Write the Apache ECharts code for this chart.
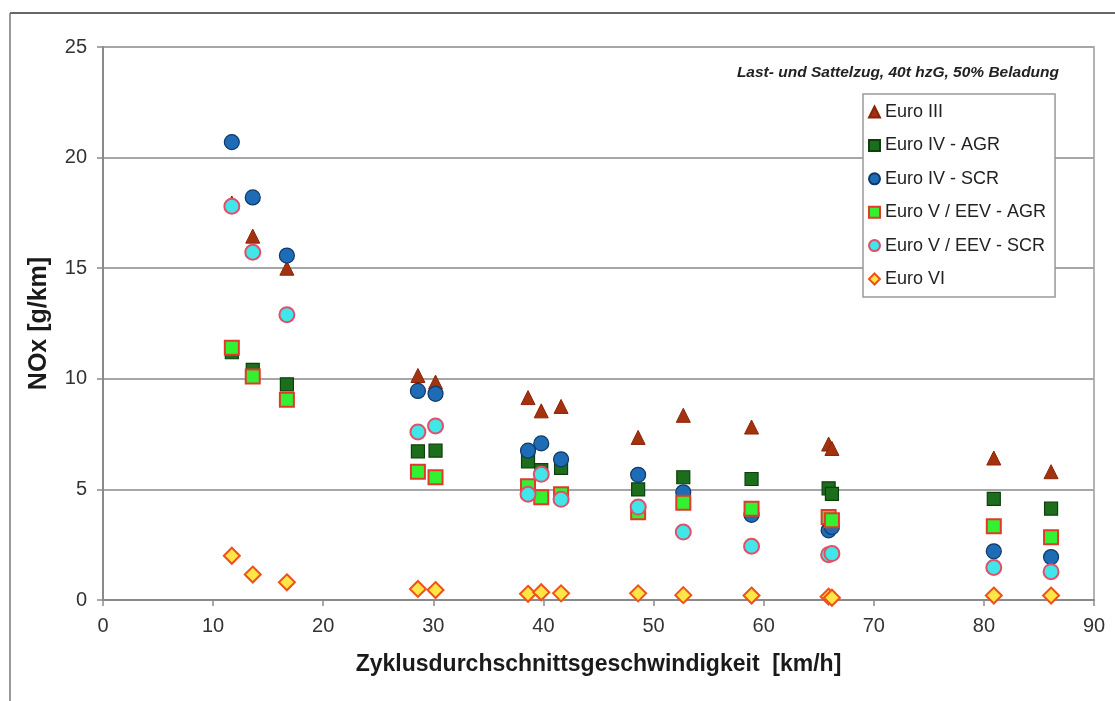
<!DOCTYPE html>
<html>
<head>
<meta charset="utf-8">
<script src="https://cdn.jsdelivr.net/npm/echarts@6/dist/echarts.min.js"></script>
<style>
html,body{margin:0;padding:0;background:#fff;}
#chart{width:1115px;height:701px;}
</style>
</head>
<body>
<div id="chart"></div>
<script>
// Cycle average speeds [km/h]
const speeds = [11.7, 13.6, 16.7, 28.6, 30.2, 38.6, 39.8, 41.6, 48.6, 52.7, 58.9, 65.9, 66.2, 80.9, 86.1];
// NOx [g/km] per emission class
const euroIII     = [17.95, 16.45, 15.0, 10.15, 9.85, 9.15, 8.55, 8.75, 7.35, 8.35, 7.82, 7.05, 6.85, 6.42, 5.8];
const euroIV_AGR  = [11.2, 10.4, 9.75, 6.72, 6.75, 6.27, 5.87, 5.97, 5.0, 5.55, 5.47, 5.05, 4.8, 4.57, 4.13];
const euroIV_SCR  = [20.7, 18.2, 15.57, 9.45, 9.32, 6.75, 7.08, 6.36, 5.66, 4.87, 3.85, 3.15, 3.3, 2.2, 1.94];
const euroV_AGR   = [11.4, 10.1, 9.05, 5.8, 5.55, 5.14, 4.65, 4.78, 3.97, 4.4, 4.12, 3.75, 3.6, 3.33, 2.84];
const euroV_SCR   = [17.8, 15.72, 12.9, 7.6, 7.87, 4.78, 5.68, 4.55, 4.2, 3.07, 2.43, 2.05, 2.1, 1.47, 1.28];
const euroVI      = [2.0, 1.15, 0.8, 0.5, 0.45, 0.28, 0.35, 0.3, 0.3, 0.22, 0.2, 0.15, 0.1, 0.2, 0.2];

const seriesNames = ['Euro III', 'Euro IV - AGR', 'Euro IV - SCR', 'Euro V / EEV - AGR', 'Euro V / EEV - SCR', 'Euro VI'];
const seriesValues = [euroIII, euroIV_AGR, euroIV_SCR, euroV_AGR, euroV_SCR, euroVI];
const yTicks = [0, 5, 10, 15, 20, 25];
const xTicks = [0, 10, 20, 30, 40, 50, 60, 70, 80, 90];
const subtitle = 'Last- und Sattelzug, 40t hzG, 50% Beladung';

const styles = [
  {symbol: 'triangle', size: 14, color: '#A3320F', border: '#8A2408', bw: 1},
  {symbol: 'rect', size: 13, color: '#1C6E1C', border: '#0C3F0C', bw: 1.2},
  {symbol: 'circle', size: 15, color: '#1F6CB6', border: '#0F3866', bw: 1.2},
  {symbol: 'rect', size: 14, color: '#33F033', border: '#E23A2A', bw: 2},
  {symbol: 'circle', size: 15, color: '#40E6E8', border: '#E0506A', bw: 2},
  {symbol: 'diamond', size: 16, color: '#FFE545', border: '#F0501A', bw: 2}
];

const chart = echarts.init(document.getElementById('chart'), null, {renderer: 'canvas'});

const series = seriesNames.map((name, i) => ({
  name: name,
  type: 'scatter',
  symbol: styles[i].symbol,
  symbolSize: styles[i].size,
  itemStyle: {color: styles[i].color, borderColor: styles[i].border, borderWidth: styles[i].bw, opacity: 1},
  emphasis: {disabled: true},
  data: speeds.map((s, k) => [s, seriesValues[i][k]]).filter(d => d[1] != null)
}));

chart.setOption({
  animation: false,
  backgroundColor: '#fff',
  grid: {left: 103, right: 21, top: 47, bottom: 101, show: true, borderColor: '#9a9a9a', borderWidth: 1.5, backgroundColor: 'transparent'},
  xAxis: {
    type: 'value', min: 0, max: 90, interval: 10,
    name: 'Zyklusdurchschnittsgeschwindigkeit  [km/h]',
    nameLocation: 'middle', nameGap: 53,
    nameTextStyle: {fontFamily: 'Liberation Sans', fontWeight: 'bold', fontSize: 23, color: '#1a1a1a'},
    axisLine: {show: true, lineStyle: {color: '#8a8a8a', width: 2}},
    axisTick: {show: true, length: 6, lineStyle: {color: '#8a8a8a', width: 1.5}},
    axisLabel: {fontFamily: 'Liberation Sans', fontSize: 20, color: '#333', margin: 16,
      formatter: v => xTicks.includes(v) ? String(v) : ''},
    splitLine: {show: false}
  },
  yAxis: {
    type: 'value', min: 0, max: 25, interval: 5,
    name: 'NOx [g/km]',
    nameLocation: 'middle', nameGap: 51,
    nameTextStyle: {fontFamily: 'Liberation Sans', fontWeight: 'bold', fontSize: 25, color: '#1a1a1a'},
    axisLine: {show: true, lineStyle: {color: '#8a8a8a', width: 2}},
    axisTick: {show: true, length: 6, lineStyle: {color: '#8a8a8a', width: 1.5}},
    axisLabel: {fontFamily: 'Liberation Sans', fontSize: 20, color: '#333', margin: 16,
      formatter: v => yTicks.includes(v) ? String(v) : ''},
    splitLine: {show: true, lineStyle: {color: '#a6a6a6', width: 2}}
  },
  legend: {
    orient: 'vertical',
    left: 863, top: 94,
    padding: [9, 9, 9, 5],
    itemWidth: 11, itemHeight: 11, itemGap: 15.4,
    backgroundColor: '#fff',
    borderColor: '#9a9a9a', borderWidth: 1.5,
    textStyle: {fontFamily: 'Liberation Sans', fontSize: 18, color: '#222'},
    data: seriesNames
  },
  graphic: [
    {type: 'text', right: 56, top: 65, style: {text: subtitle, font: 'italic bold 15.5px "Liberation Sans"', fill: '#222'}},
    {type: 'line', shape: {x1: 10, y1: 13, x2: 1115, y2: 13}, style: {stroke: '#333', lineWidth: 1.5}},
    {type: 'line', shape: {x1: 10, y1: 13, x2: 10, y2: 701}, style: {stroke: '#777', lineWidth: 1.5}}
  ],
  series: series
});
</script>
</body>
</html>
